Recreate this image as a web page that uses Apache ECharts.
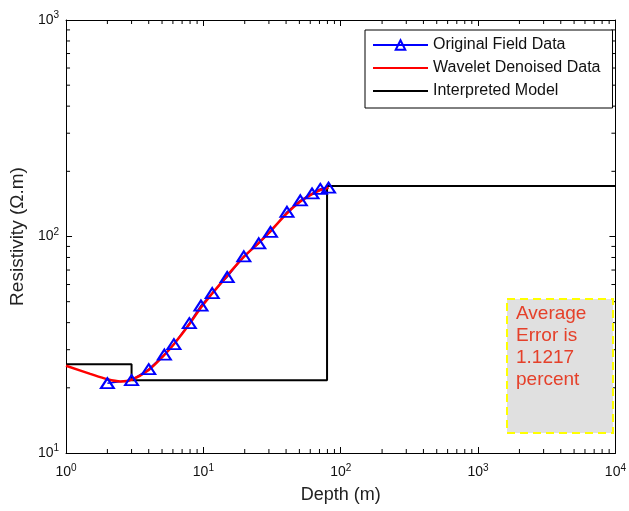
<!DOCTYPE html>
<html><head><meta charset="utf-8">
<script src="https://cdn.jsdelivr.net/npm/echarts@6/dist/echarts.min.js"></script>
<style>html,body{margin:0;padding:0;background:#fff}#c{width:629px;height:511px}</style>
</head><body><div id="c"></div>
<script>
// ---- data ----
const depthField = [2, 3, 4, 5.2, 6.1, 7.9, 9.6, 11.6, 14.9, 19.7, 25.3, 30.8, 40.6, 50.8, 61.8, 71, 81.5];
const resField   = [21.0, 21.7, 24.4, 28.5, 31.8, 39.8, 48, 54.8, 65, 81, 93, 105, 130, 147, 158, 166, 168];
const depthDenoised = [1, 1.5, 2, 2.5, 3, 4, 5.2, 6.1, 7.9, 9.6, 11.6, 14.9, 19.7, 25.3, 30.8, 40.6, 50.8, 61.8, 71, 81.5];
const resDenoised   = [25.3, 23.2, 21.9, 21.4, 21.8, 24.2, 28.4, 31.8, 39.3, 47, 54.5, 66, 80.5, 93.5, 106, 128, 145, 157, 164, 168];
const depthModel = [1, 3, 3, 79.5, 79.5, 10000];
const resModel   = [25.7, 25.7, 21.7, 21.7, 171, 171];
const seriesNames = ['Original Field Data', 'Wavelet Denoised Data', 'Interpreted Model'];
const xDecades = [1, 10, 100, 1000];
const yDecades = [10, 100];
const minorSteps = [2, 3, 4, 5, 6, 7, 8, 9];
const errorText = ['Average', 'Error is', '1.1217', 'percent'];

// ---- chart ----
const FONT = '"Liberation Sans", Arial, sans-serif';
const zip = (a, b) => a.map((v, i) => [v, b[i]]);
function supLabel(v) { const e = Math.round(Math.log10(v)); return '{b|10}{s|' + e + '}'; }
const labelRich = {
  b: { fontSize: 14, fontFamily: FONT, color: '#111' },
  s: { fontSize: 10, fontFamily: FONT, color: '#111', padding: [0, 0, 9, 0] }
};
const minorData = [];
xDecades.forEach(d => minorSteps.forEach(m => minorData.push([d * m, 10, 0])));
yDecades.forEach(d => minorSteps.forEach(m => minorData.push([1, d * m, 1])));

const axisLine = { show: true, onZero: false, lineStyle: { color: '#000', width: 1 } };
const axisTick = { show: true, inside: true, length: 6, lineStyle: { color: '#000', width: 1 } };
const clear = 'rgba(0,0,0,0)';

const chart = echarts.init(document.getElementById('c'));
chart.setOption({
  backgroundColor: '#fff',
  animation: false,
  grid: { left: 65, right: 13, top: 20, bottom: 58, containLabel: false },
  xAxis: [
    { type: 'log', logBase: 10, min: 1, max: 10000, position: 'bottom',
      axisLine, axisTick, splitLine: { show: false },
      axisLabel: { formatter: supLabel, rich: labelRich, margin: 10 },
      name: 'Depth (m)', nameLocation: 'middle', nameGap: 33,
      nameTextStyle: { fontSize: 18, fontFamily: FONT, color: '#222' } },
    { type: 'log', logBase: 10, min: 1, max: 10000, position: 'top',
      axisLine, axisTick, splitLine: { show: false }, axisLabel: { show: false } }
  ],
  yAxis: [
    { type: 'log', logBase: 10, min: 10, max: 1000, position: 'left',
      axisLine, axisTick, splitLine: { show: false },
      axisLabel: { formatter: supLabel, rich: labelRich, margin: 7 },
      name: 'Resistivity (\u03A9.m)', nameLocation: 'middle', nameGap: 36,
      nameTextStyle: { fontSize: 19, fontFamily: FONT, color: '#222' } },
    { type: 'log', logBase: 10, min: 10, max: 1000, position: 'right',
      axisLine, axisTick, splitLine: { show: false }, axisLabel: { show: false } }
  ],
  legend: {
    data: seriesNames, left: 365, top: 30, orient: 'vertical',
    backgroundColor: '#fff', borderColor: '#000', borderWidth: 1,
    padding: [7, 12, 9, 7], itemWidth: 55, itemHeight: 12, itemGap: 7,
    textStyle: { fontSize: 16, fontFamily: FONT, color: '#111' }
  },
  graphic: [
    { type: 'rect', left: 506, top: 298, z: 10,
      shape: { width: 106, height: 134 },
      style: { fill: '#e0e0e0', stroke: '#ffff00', lineWidth: 2, lineDash: [8, 5] } },
    { type: 'text', left: 516, top: 303, z: 11,
      style: { text: errorText.join('\n'), fill: '#e5402a', font: '19px "Liberation Sans", Arial, sans-serif', lineHeight: 22 } }
  ],
  series: [
    { type: 'custom', silent: true, clip: false, data: minorData, z: 3,
      encode: { x: 0, y: 1 },
      renderItem(params, api) {
        const t = api.value(2);
        const st = { stroke: '#000', lineWidth: 1 };
        if (t === 0) {
          const v = api.value(0);
          const p1 = api.coord([v, 10]), p2 = api.coord([v, 1000]);
          return { type: 'group', children: [
            { type: 'line', shape: { x1: p1[0], y1: p1[1], x2: p1[0], y2: p1[1] - 4 }, style: st },
            { type: 'line', shape: { x1: p2[0], y1: p2[1], x2: p2[0], y2: p2[1] + 4 }, style: st }
          ] };
        } else {
          const v = api.value(1);
          const p1 = api.coord([1, v]), p2 = api.coord([10000, v]);
          return { type: 'group', children: [
            { type: 'line', shape: { x1: p1[0], y1: p1[1], x2: p1[0] + 4, y2: p1[1] }, style: st },
            { type: 'line', shape: { x1: p2[0], y1: p2[1], x2: p2[0] - 4, y2: p2[1] }, style: st }
          ] };
        }
      } },
    { name: seriesNames[2], type: 'line', data: zip(depthModel, resModel), showSymbol: false, symbol: 'circle', symbolSize: 0,
      lineStyle: { color: '#000', width: 2 }, itemStyle: { color: clear, borderWidth: 0 }, z: 2 },
    { name: seriesNames[0], type: 'line', data: zip(depthField, resField),
      symbol: 'triangle', symbolSize: [13, 10], showAllSymbol: true,
      lineStyle: { color: '#0000ff', width: 1.5 },
      itemStyle: { color: clear, borderColor: '#0000ff', borderWidth: 2 }, z: 2 },
    { name: seriesNames[1], type: 'line', data: zip(depthDenoised, resDenoised), showSymbol: false, symbol: 'circle', symbolSize: 0,
      smooth: 0.3, lineStyle: { color: '#ff0000', width: 2.5 }, itemStyle: { color: clear, borderWidth: 0 }, z: 2 }
  ]
});
</script></body></html>
